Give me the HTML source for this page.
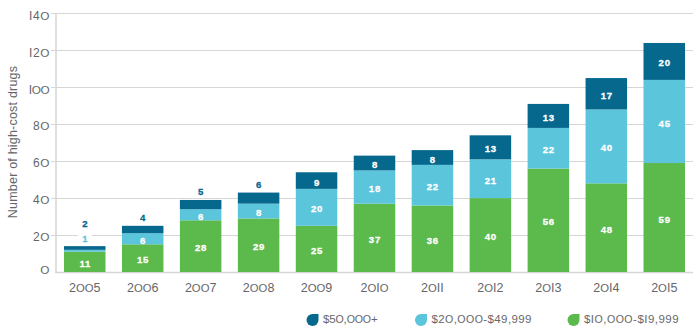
<!DOCTYPE html>
<html><head><meta charset="utf-8"><style>
html,body{margin:0;padding:0;background:#fff;width:700px;height:332px;overflow:hidden}
svg{display:block}
text{font-family:"Liberation Sans",sans-serif}
.tk{font-size:12px;fill:#66666a;letter-spacing:0.6px}
.yr{font-size:12.5px;fill:#66666a;letter-spacing:0px}
.bl{font-size:9.6px;font-weight:bold;letter-spacing:0.7px;stroke-width:0.3px}
.tt{font-size:12.5px;fill:#66666a;letter-spacing:0.2px}
.lg{font-size:11.5px;fill:#66666a;letter-spacing:-0.15px}
</style></head><body>
<svg width="700" height="332" viewBox="0 0 700 332">
<line x1="51" y1="235.5" x2="693" y2="235.5" stroke="#d6d6d6" stroke-width="1"/>
<text x="50" y="241.2" text-anchor="end" class="tk">2<tspan font-size="11.8">O</tspan></text>
<line x1="51" y1="198.5" x2="693" y2="198.5" stroke="#d6d6d6" stroke-width="1"/>
<text x="50" y="204.2" text-anchor="end" class="tk">4<tspan font-size="11.8">O</tspan></text>
<line x1="51" y1="161.5" x2="693" y2="161.5" stroke="#d6d6d6" stroke-width="1"/>
<text x="50" y="167.2" text-anchor="end" class="tk">6<tspan font-size="11.8">O</tspan></text>
<line x1="51" y1="124.5" x2="693" y2="124.5" stroke="#d6d6d6" stroke-width="1"/>
<text x="50" y="130.2" text-anchor="end" class="tk">8<tspan font-size="11.8">O</tspan></text>
<line x1="51" y1="87.5" x2="693" y2="87.5" stroke="#d6d6d6" stroke-width="1"/>
<text x="49.3" y="94.0" text-anchor="end" class="tk" style="letter-spacing:-0.4px">I<tspan font-size="11.8">O</tspan><tspan font-size="11.8">O</tspan></text>
<line x1="51" y1="50.5" x2="693" y2="50.5" stroke="#d6d6d6" stroke-width="1"/>
<text x="50" y="57.0" text-anchor="end" class="tk">I2<tspan font-size="11.8">O</tspan></text>
<line x1="51" y1="13.5" x2="693" y2="13.5" stroke="#d6d6d6" stroke-width="1"/>
<text x="50" y="20.0" text-anchor="end" class="tk">I4<tspan font-size="11.8">O</tspan></text>
<text x="50" y="273.8" text-anchor="end" class="tk"><tspan font-size="11.8">O</tspan></text>
<line x1="56" y1="13" x2="56" y2="273.25" stroke="#d6d6d6" stroke-width="1.5"/>
<line x1="55.5" y1="272.5" x2="693" y2="272.5" stroke="#d6d6d6" stroke-width="1.5"/>
<rect x="64.00" y="251.68" width="41.5" height="20.32" fill="#5cb94b"/>
<rect x="64.00" y="249.84" width="41.5" height="1.85" fill="#5bc5db"/>
<rect x="64.00" y="246.14" width="41.5" height="3.69" fill="#07688d"/>
<text x="84.75" y="292.0" text-anchor="middle" class="yr">2<tspan font-size="11.3">O</tspan><tspan font-size="11.3">O</tspan>5</text>
<rect x="121.95" y="244.30" width="41.5" height="27.70" fill="#5cb94b"/>
<rect x="121.95" y="233.21" width="41.5" height="11.08" fill="#5bc5db"/>
<rect x="121.95" y="225.82" width="41.5" height="7.39" fill="#07688d"/>
<text x="142.70" y="292.0" text-anchor="middle" class="yr">2<tspan font-size="11.3">O</tspan><tspan font-size="11.3">O</tspan>6</text>
<rect x="179.90" y="220.28" width="41.5" height="51.72" fill="#5cb94b"/>
<rect x="179.90" y="209.20" width="41.5" height="11.08" fill="#5bc5db"/>
<rect x="179.90" y="199.97" width="41.5" height="9.24" fill="#07688d"/>
<text x="200.65" y="292.0" text-anchor="middle" class="yr">2<tspan font-size="11.3">O</tspan><tspan font-size="11.3">O</tspan>7</text>
<rect x="237.85" y="218.44" width="41.5" height="53.56" fill="#5cb94b"/>
<rect x="237.85" y="203.66" width="41.5" height="14.78" fill="#5bc5db"/>
<rect x="237.85" y="192.58" width="41.5" height="11.08" fill="#07688d"/>
<text x="258.60" y="292.0" text-anchor="middle" class="yr">2<tspan font-size="11.3">O</tspan><tspan font-size="11.3">O</tspan>8</text>
<rect x="295.80" y="225.82" width="41.5" height="46.18" fill="#5cb94b"/>
<rect x="295.80" y="188.88" width="41.5" height="36.94" fill="#5bc5db"/>
<rect x="295.80" y="172.26" width="41.5" height="16.62" fill="#07688d"/>
<text x="316.55" y="292.0" text-anchor="middle" class="yr">2<tspan font-size="11.3">O</tspan><tspan font-size="11.3">O</tspan>9</text>
<rect x="353.75" y="203.66" width="41.5" height="68.34" fill="#5cb94b"/>
<rect x="353.75" y="170.42" width="41.5" height="33.25" fill="#5bc5db"/>
<rect x="353.75" y="155.64" width="41.5" height="14.78" fill="#07688d"/>
<text x="374.50" y="292.0" text-anchor="middle" class="yr">2<tspan font-size="11.3">O</tspan>I<tspan font-size="11.3">O</tspan></text>
<rect x="411.70" y="205.51" width="41.5" height="66.49" fill="#5cb94b"/>
<rect x="411.70" y="164.87" width="41.5" height="40.63" fill="#5bc5db"/>
<rect x="411.70" y="150.10" width="41.5" height="14.78" fill="#07688d"/>
<text x="432.45" y="292.0" text-anchor="middle" class="yr">2<tspan font-size="11.3">O</tspan>II</text>
<rect x="469.65" y="198.12" width="41.5" height="73.88" fill="#5cb94b"/>
<rect x="469.65" y="159.33" width="41.5" height="38.79" fill="#5bc5db"/>
<rect x="469.65" y="135.32" width="41.5" height="24.01" fill="#07688d"/>
<text x="490.40" y="292.0" text-anchor="middle" class="yr">2<tspan font-size="11.3">O</tspan>I2</text>
<rect x="527.60" y="168.57" width="41.5" height="103.43" fill="#5cb94b"/>
<rect x="527.60" y="127.93" width="41.5" height="40.63" fill="#5bc5db"/>
<rect x="527.60" y="103.92" width="41.5" height="24.01" fill="#07688d"/>
<text x="548.35" y="292.0" text-anchor="middle" class="yr">2<tspan font-size="11.3">O</tspan>I3</text>
<rect x="585.55" y="183.34" width="41.5" height="88.66" fill="#5cb94b"/>
<rect x="585.55" y="109.46" width="41.5" height="73.88" fill="#5bc5db"/>
<rect x="585.55" y="78.06" width="41.5" height="31.40" fill="#07688d"/>
<text x="606.30" y="292.0" text-anchor="middle" class="yr">2<tspan font-size="11.3">O</tspan>I4</text>
<rect x="643.50" y="163.03" width="41.5" height="108.97" fill="#5cb94b"/>
<rect x="643.50" y="79.91" width="41.5" height="83.11" fill="#5bc5db"/>
<rect x="643.50" y="42.97" width="41.5" height="36.94" fill="#07688d"/>
<text x="664.25" y="292.0" text-anchor="middle" class="yr">2<tspan font-size="11.3">O</tspan>I5</text>
<text x="85.15" y="266.89" text-anchor="middle" class="bl" fill="#fff" stroke="#fff">11</text>
<rect x="77.75" y="234.14" width="14" height="10" fill="#fff"/>
<text x="85.15" y="241.64" text-anchor="middle" class="bl" fill="#5bc5db" stroke="#5bc5db">1</text>
<text x="85.15" y="226.84" text-anchor="middle" class="bl" fill="#07688d" stroke="#07688d">2</text>
<text x="143.10" y="263.20" text-anchor="middle" class="bl" fill="#fff" stroke="#fff">15</text>
<text x="143.10" y="243.80" text-anchor="middle" class="bl" fill="#fff" stroke="#fff">6</text>
<text x="143.10" y="221.32" text-anchor="middle" class="bl" fill="#07688d" stroke="#07688d">4</text>
<text x="201.05" y="251.19" text-anchor="middle" class="bl" fill="#fff" stroke="#fff">28</text>
<text x="201.05" y="219.79" text-anchor="middle" class="bl" fill="#fff" stroke="#fff">6</text>
<text x="201.05" y="195.47" text-anchor="middle" class="bl" fill="#07688d" stroke="#07688d">5</text>
<text x="259.00" y="250.27" text-anchor="middle" class="bl" fill="#fff" stroke="#fff">29</text>
<text x="259.00" y="216.10" text-anchor="middle" class="bl" fill="#fff" stroke="#fff">8</text>
<text x="259.00" y="188.08" text-anchor="middle" class="bl" fill="#07688d" stroke="#07688d">6</text>
<text x="316.95" y="253.96" text-anchor="middle" class="bl" fill="#fff" stroke="#fff">25</text>
<text x="316.95" y="212.41" text-anchor="middle" class="bl" fill="#fff" stroke="#fff">20</text>
<text x="316.95" y="185.62" text-anchor="middle" class="bl" fill="#fff" stroke="#fff">9</text>
<text x="374.90" y="242.88" text-anchor="middle" class="bl" fill="#fff" stroke="#fff">37</text>
<text x="374.90" y="192.09" text-anchor="middle" class="bl" fill="#fff" stroke="#fff">18</text>
<text x="374.90" y="168.08" text-anchor="middle" class="bl" fill="#fff" stroke="#fff">8</text>
<text x="432.85" y="243.80" text-anchor="middle" class="bl" fill="#fff" stroke="#fff">36</text>
<text x="432.85" y="190.24" text-anchor="middle" class="bl" fill="#fff" stroke="#fff">22</text>
<text x="432.85" y="162.54" text-anchor="middle" class="bl" fill="#fff" stroke="#fff">8</text>
<text x="490.80" y="240.11" text-anchor="middle" class="bl" fill="#fff" stroke="#fff">40</text>
<text x="490.80" y="183.78" text-anchor="middle" class="bl" fill="#fff" stroke="#fff">21</text>
<text x="490.80" y="152.38" text-anchor="middle" class="bl" fill="#fff" stroke="#fff">13</text>
<text x="548.75" y="225.33" text-anchor="middle" class="bl" fill="#fff" stroke="#fff">56</text>
<text x="548.75" y="153.30" text-anchor="middle" class="bl" fill="#fff" stroke="#fff">22</text>
<text x="548.75" y="120.98" text-anchor="middle" class="bl" fill="#fff" stroke="#fff">13</text>
<text x="606.70" y="232.72" text-anchor="middle" class="bl" fill="#fff" stroke="#fff">48</text>
<text x="606.70" y="151.45" text-anchor="middle" class="bl" fill="#fff" stroke="#fff">40</text>
<text x="606.70" y="98.81" text-anchor="middle" class="bl" fill="#fff" stroke="#fff">17</text>
<text x="664.65" y="222.56" text-anchor="middle" class="bl" fill="#fff" stroke="#fff">59</text>
<text x="664.65" y="126.52" text-anchor="middle" class="bl" fill="#fff" stroke="#fff">45</text>
<text x="664.65" y="66.49" text-anchor="middle" class="bl" fill="#fff" stroke="#fff">20</text>
<text transform="translate(16.9,142) rotate(-90)" text-anchor="middle" class="tt">Number of high-cost drugs</text>
<path d="M312.5 314 H318.5 V320 A6 6 0 1 1 312.5 314 Z" fill="#07688d"/>
<text x="323" y="322.5" class="lg">$5<tspan font-size="10.6">O</tspan>,<tspan font-size="10.6">O</tspan><tspan font-size="10.6">O</tspan><tspan font-size="10.6">O</tspan>+</text>
<path d="M421 314 H427 V320 A6 6 0 1 1 421 314 Z" fill="#5bc5db"/>
<text x="431.5" y="322.5" class="lg" style="letter-spacing:0.4px">$2<tspan font-size="10.6">O</tspan>,<tspan font-size="10.6">O</tspan><tspan font-size="10.6">O</tspan><tspan font-size="10.6">O</tspan>-$49,999</text>
<path d="M573.5 314 H579.5 V320 A6 6 0 1 1 573.5 314 Z" fill="#5cb94b"/>
<text x="584" y="322.5" class="lg" style="letter-spacing:0.47px">$I<tspan font-size="10.6">O</tspan>,<tspan font-size="10.6">O</tspan><tspan font-size="10.6">O</tspan><tspan font-size="10.6">O</tspan>-$I9,999</text>
</svg>
</body></html>
